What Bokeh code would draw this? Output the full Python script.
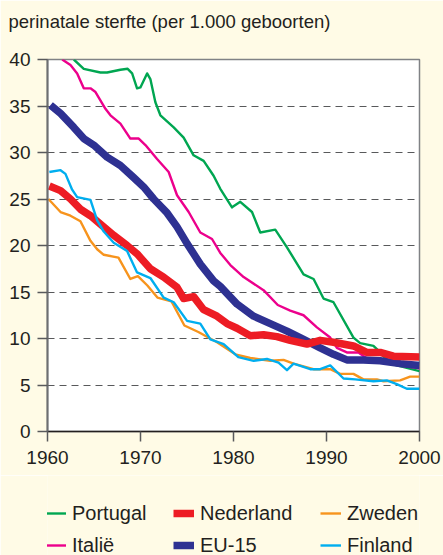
from bokeh.plotting import figure
from bokeh.models import Range1d, FixedTicker, Legend, LegendItem
from bokeh.layouts import column
from bokeh.embed import file_html
from bokeh.resources import INLINE

# ---- data (year, perinatal mortality per 1000 births) ----
portugal_years = [1962.83, 1963.90, 1965.69, 1966.41, 1967.84, 1968.62, 1969.10, 1969.63,
                  1969.99, 1970.71, 1971.06, 1971.60, 1972.14, 1973.57, 1974.64, 1975.71,
                  1976.79, 1977.86, 1978.58, 1979.84, 1980.73, 1981.99, 1982.88, 1984.49,
                  1985.75, 1987.53, 1988.61, 1989.68, 1990.75, 1992.90, 1993.62, 1995.05,
                  1995.59, 1996.84, 2000.0]
portugal_vals = [40.0, 39.0, 38.6, 38.6, 38.9, 39.0, 38.5, 36.9,
                 37.0, 38.5, 37.9, 35.4, 34.0, 32.7, 31.6, 29.7,
                 29.1, 27.5, 26.1, 24.1, 24.7, 23.6, 21.4, 21.7,
                 19.8, 16.9, 16.4, 14.3, 13.9, 10.1, 9.5, 9.2,
                 8.7, 7.3, 6.5]

italie_years = [1961.58, 1962.47, 1963.19, 1963.90, 1964.62, 1965.16, 1966.23, 1966.77,
                1967.84, 1968.91, 1969.81, 1970.53, 1971.78, 1973.03, 1973.93, 1975.18,
                1976.43, 1977.69, 1978.58, 1979.66, 1981.09, 1983.23, 1984.76, 1986.10,
                1987.53, 1988.97, 1990.40, 1991.12, 1992.19, 1993.44, 1994.69, 1996.12,
                1997.92, 2000.0]
italie_vals = [40.0, 39.4, 38.5, 36.9, 36.9, 36.5, 34.7, 34.0,
               33.1, 31.5, 31.5, 30.8, 29.3, 27.9, 25.4, 23.6,
               21.4, 20.7, 19.2, 17.9, 16.6, 15.2, 13.6, 13.0,
               12.5, 11.2, 10.1, 9.0, 8.5, 8.5, 7.6, 7.4,
               7.1, 6.8]

eu15_years = [1960.32, 1961.40, 1962.83, 1963.90, 1964.97, 1966.41, 1967.84, 1969.27,
              1970.34, 1971.42, 1972.86, 1973.93, 1975.01, 1976.43, 1977.86, 1978.58,
              1980.38, 1982.16, 1983.95, 1985.75, 1987.53, 1989.32, 1990.75, 1992.19,
              1993.97, 1995.77, 1997.92, 2000.0]
eu15_vals = [35.1, 34.2, 32.7, 31.5, 30.8, 29.5, 28.6, 27.3,
             26.3, 25.0, 23.5, 22.0, 20.2, 18.0, 16.2, 15.6,
             13.7, 12.4, 11.6, 10.8, 9.9, 9.0, 8.3, 7.7,
             7.7, 7.6, 7.3, 7.1]

nederland_years = [1960.2, 1961.40, 1962.47, 1963.54, 1964.62, 1965.69, 1967.12, 1968.56,
                   1969.63, 1971.06, 1972.49, 1973.93, 1974.64, 1975.71, 1976.79, 1978.23,
                   1979.30, 1980.38, 1981.80, 1983.23, 1984.67, 1986.10, 1987.90, 1989.32,
                   1990.75, 1992.90, 1994.33, 1995.77, 1997.20, 2000.0]
nederland_vals = [26.4, 25.9, 25.0, 23.9, 23.2, 22.3, 21.1, 20.0,
                  19.1, 17.5, 16.6, 15.5, 14.3, 14.5, 13.1, 12.4,
                  11.6, 11.1, 10.3, 10.4, 10.2, 9.8, 9.4, 9.8,
                  9.6, 9.2, 8.5, 8.5, 8.1, 8.0]

zweden_years = [1960.1, 1961.40, 1962.47, 1963.54, 1964.62, 1965.34, 1966.05, 1967.63,
                1968.91, 1969.72, 1970.74, 1971.82, 1973.32, 1974.72, 1976.22, 1978.23,
                1980.19, 1981.80, 1983.95, 1985.38, 1986.46, 1988.60, 1990.40, 1991.47,
                1992.90, 1993.97, 1995.41, 1996.12, 1997.92, 1998.99, 2000.0]
zweden_vals = [25.0, 23.6, 23.2, 22.6, 20.5, 19.6, 19.0, 18.7,
               16.4, 16.7, 15.7, 14.4, 14.0, 11.4, 10.7, 9.6,
               8.3, 7.9, 7.6, 7.7, 7.3, 6.7, 6.7, 6.2,
               6.2, 5.6, 5.6, 5.4, 5.5, 5.9, 5.9]

finland_years = [1960.2, 1961.40, 1961.93, 1962.65, 1963.19, 1964.62, 1965.34, 1966.05,
                 1967.12, 1968.56, 1969.63, 1971.06, 1972.49, 1973.57, 1975.01, 1976.43,
                 1977.51, 1978.94, 1980.52, 1982.16, 1983.60, 1984.84, 1985.75, 1986.46,
                 1988.25, 1989.32, 1990.40, 1991.83, 1993.08, 1995.05, 1996.48, 1997.56,
                 1998.63, 2000.0]
finland_vals = [27.9, 28.1, 27.7, 26.0, 25.2, 24.9, 22.7, 21.5,
                20.3, 19.4, 17.1, 16.5, 14.4, 13.9, 11.9, 11.6,
                9.9, 9.4, 8.0, 7.6, 7.8, 7.4, 6.6, 7.3,
                6.7, 6.7, 7.1, 5.7, 5.6, 5.4, 5.5, 5.1,
                4.6, 4.6]

series_names = ["Portugal", "Italië", "EU-15", "Nederland", "Zweden", "Finland"]
x_ticks = [1960, 1970, 1980, 1990, 2000]
y_ticks = [0, 5, 10, 15, 20, 25, 30, 35, 40]
title_text = "perinatale sterfte (per 1.000 geboorten)"

CREAM = "#FFFBE6"
TXT = "#231F20"
styles = {
    "Portugal": ("#00A651", 2.4),
    "Italië": ("#EC008C", 2.4),
    "EU-15": ("#2E3192", 7.5),
    "Nederland": ("#ED1C24", 7.5),
    "Zweden": ("#F7941D", 2.4),
    "Finland": ("#00AEEF", 2.4),
}
data = {
    "Portugal": (portugal_years, portugal_vals),
    "Italië": (italie_years, italie_vals),
    "EU-15": (eu15_years, eu15_vals),
    "Nederland": (nederland_years, nederland_vals),
    "Zweden": (zweden_years, zweden_vals),
    "Finland": (finland_years, finland_vals),
}

# ---------------- main chart ----------------
p = figure(width=443, height=475, output_backend="svg", toolbar_location=None,
           x_range=Range1d(1960, 2000), y_range=Range1d(0, 40),
           min_border_left=47, min_border_right=24, min_border_top=59,
           min_border_bottom=44)
p.background_fill_color = "white"
p.border_fill_color = CREAM
p.outline_line_color = "#808285"
p.outline_line_width = 1.5

# trailing line break keeps the one-line title high above the plot frame
p.title.text = title_text + "\n"
p.title.text_font = "Liberation Sans"
p.title.text_font_size = "18.5px"
p.title.text_font_style = "normal"
p.title.text_color = TXT
p.title.align = "left"
p.title.offset = -39
p.title.standoff = 14

p.xaxis.ticker = FixedTicker(ticks=x_ticks)
p.yaxis.ticker = FixedTicker(ticks=y_ticks)
for ax in (p.xaxis[0], p.yaxis[0]):
    ax.major_label_text_font = "Liberation Sans"
    ax.major_label_text_font_size = "19px"
    ax.major_label_text_color = TXT
    ax.major_tick_out = 10
    ax.major_tick_in = 0
    ax.minor_tick_line_color = None
    ax.major_tick_line_color = "#58595B"
    ax.major_tick_line_width = 1.5
p.xaxis.axis_line_color = "#231F20"
p.xaxis.axis_line_width = 1.5
p.yaxis.axis_line_color = "#6D6E71"
p.yaxis.axis_line_width = 2
p.xaxis.major_label_standoff = 9
p.yaxis.major_label_standoff = 7

p.xgrid.grid_line_color = None
p.ygrid.grid_line_color = "#58595B"
p.ygrid.grid_line_dash = "7 5"
p.ygrid.grid_line_width = 1

for name in series_names:
    xs, ys = data[name]
    col, w = styles[name]
    p.line(xs, ys, line_color=col, line_width=w, line_join="round")

# ---------------- legend strip (frame is aligned with the chart's frame) ----------------
q = figure(width=443, height=80, output_backend="svg", toolbar_location=None,
           x_range=Range1d(0, 1), y_range=Range1d(0, 1),
           x_axis_location=None, y_axis_location=None,
           min_border_left=0, min_border_right=0, min_border_top=0,
           min_border_bottom=0)
q.background_fill_color = CREAM
q.border_fill_color = CREAM
q.outline_line_color = None
q.xgrid.grid_line_color = None
q.ygrid.grid_line_color = None

# the same series, styled identically; they lie outside this strip's ranges,
# so only their legend swatches are seen
keys = {}
for name in series_names:
    xs, ys = data[name]
    col, w = styles[name]
    keys[name] = q.line(xs, ys, line_color=col, line_width=w)

legend_columns = [(-2, ["Portugal", "Italië"]),
                  (126, ["Nederland", "EU-15"]),
                  (273, ["Zweden", "Finland"])]
for x0, names in legend_columns:
    leg = Legend(items=[LegendItem(label=n, renderers=[keys[n]]) for n in names],
                 location=(x0, -2), orientation="vertical",
                 glyph_width=21, glyph_height=24, label_height=24,
                 label_standoff=6, spacing=8, padding=0, margin=0,
                 border_line_color=None, background_fill_alpha=0,
                 label_text_font="Liberation Sans",
                 label_text_font_size="20px", label_text_color=TXT)
    q.add_layout(leg, "center")

page = column(p, q, spacing=0)
open("out.html", "w").write(file_html(page, INLINE))
